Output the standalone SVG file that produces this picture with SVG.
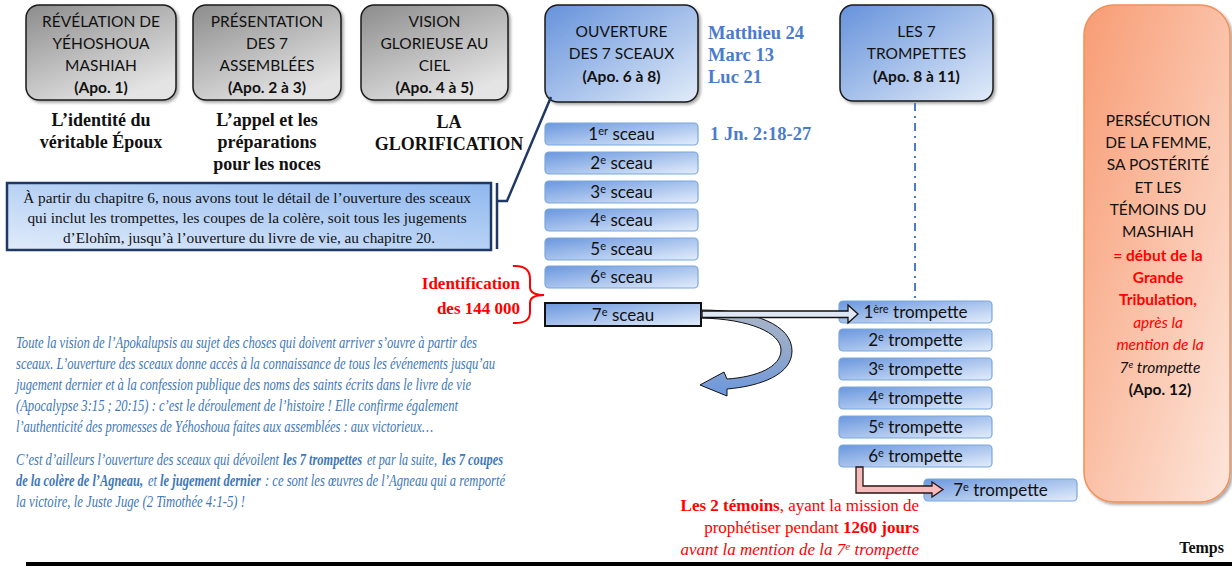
<svg xmlns="http://www.w3.org/2000/svg" width="1232" height="568" viewBox="0 0 1232 568">
<defs>
  <linearGradient id="gGray" x1="0" y1="0" x2="0.6" y2="1">
    <stop offset="0" stop-color="#8c8c8c"/>
    <stop offset="1" stop-color="#e4e4e4"/>
  </linearGradient>
  <linearGradient id="gBlue" x1="0" y1="0" x2="1" y2="1">
    <stop offset="0" stop-color="#6592db"/>
    <stop offset="1" stop-color="#e2ecf9"/>
  </linearGradient>
  <linearGradient id="gBar" x1="0" y1="0" x2="1" y2="1">
    <stop offset="0" stop-color="#6a97de"/>
    <stop offset="1" stop-color="#e3edfb"/>
  </linearGradient>
  <linearGradient id="gOrange" x1="0" y1="0" x2="1" y2="1">
    <stop offset="0" stop-color="#f89c74"/>
    <stop offset="1" stop-color="#fde6db"/>
  </linearGradient>
  <linearGradient id="gNote" x1="0" y1="1" x2="1" y2="0">
    <stop offset="0" stop-color="#e0ebfa"/>
    <stop offset="1" stop-color="#8fb8ef"/>
  </linearGradient>
  <linearGradient id="gRibbon" x1="0" y1="0" x2="0" y2="1">
    <stop offset="0" stop-color="#aab6c8"/>
    <stop offset="0.55" stop-color="#8fa6cc"/>
    <stop offset="1" stop-color="#6a97de"/>
  </linearGradient>
  <filter id="sh" x="-10%" y="-10%" width="125%" height="125%">
    <feDropShadow dx="2" dy="2" stdDeviation="1.5" flood-color="#000" flood-opacity="0.35"/>
  </filter>
</defs>
<style>
  .big { stroke: #1a1a1a; stroke-width: 1.5; filter: url(#sh); }
  .bar { fill: url(#gBar); stroke: #7aa7dd; stroke-width: 1.2; }
  .sans { font-family: Lato, "Open Sans", "Liberation Sans", sans-serif; fill: #111; }
  .t15 { font-size: 15.5px; text-anchor: middle; }
  .t17 { font-size: 17px; text-anchor: middle; }
  .b { font-weight: bold; }
  .cap { font-family: "Liberation Serif", serif; font-weight: bold; font-size: 18px; text-anchor: middle; fill: #111; }
  .ref { font-family: "Liberation Serif", serif; font-weight: bold; font-size: 18.5px; fill: #4a7ccb; }
  .bl { font-family: "Liberation Serif", serif; font-style: italic; font-size: 12px; fill: #3d77b8; }
  .red { font-family: "Liberation Serif", serif; font-size: 17px; fill: #ff0000; text-anchor: end; }
</style>

<!-- Top gray nodes -->
<g id="n-revelation">
  <rect class="big" x="26" y="5" width="150" height="95" rx="13" fill="url(#gGray)"/>
  <text class="sans t15"><tspan x="101" y="27">RÉVÉLATION DE</tspan><tspan x="101" y="49">YÉHOSHOUA</tspan><tspan x="101" y="71">MASHIAH</tspan><tspan x="101" y="93" class="b">(Apo. 1)</tspan></text>
  <text class="cap"><tspan x="101" y="126">L’identité du</tspan><tspan x="101" y="148">véritable Époux</tspan></text>
</g>
<g id="n-presentation">
  <rect class="big" x="193" y="5" width="148" height="95" rx="13" fill="url(#gGray)"/>
  <text class="sans t15"><tspan x="267" y="27">PRÉSENTATION</tspan><tspan x="267" y="49">DES 7</tspan><tspan x="267" y="71">ASSEMBLÉES</tspan><tspan x="267" y="93" class="b">(Apo. 2 à 3)</tspan></text>
  <text class="cap"><tspan x="267" y="126">L’appel et les</tspan><tspan x="267" y="148">préparations</tspan><tspan x="267" y="170">pour les noces</tspan></text>
</g>
<g id="n-vision">
  <rect class="big" x="361" y="5" width="147" height="95" rx="13" fill="url(#gGray)"/>
  <text class="sans t15"><tspan x="434.5" y="27">VISION</tspan><tspan x="434.5" y="49">GLORIEUSE AU</tspan><tspan x="434.5" y="71">CIEL</tspan><tspan x="434.5" y="93" class="b">(Apo. 4 à 5)</tspan></text>
  <text class="cap"><tspan x="449" y="128">LA</tspan><tspan x="449" y="150">GLORIFICATION</tspan></text>
</g>

<!-- Blue nodes -->
<g id="n-ouverture">
  <rect class="big" x="545" y="5" width="153" height="97" rx="13" fill="url(#gBlue)"/>
  <text class="sans t15"><tspan x="621.5" y="37">OUVERTURE</tspan><tspan x="621.5" y="59">DES 7 SCEAUX</tspan><tspan x="621.5" y="82" class="b">(Apo. 6 à 8)</tspan></text>
</g>
<g id="refs">
  <text class="ref"><tspan x="708" y="39">Matthieu 24</tspan><tspan x="708" y="61">Marc 13</tspan><tspan x="708" y="83">Luc 21</tspan></text>
  <text class="ref" x="710" y="140">1 Jn. 2:18-27</text>
</g>
<g id="n-trompettes">
  <rect class="big" x="840" y="5" width="153" height="96" rx="13" fill="url(#gBlue)"/>
  <text class="sans t15"><tspan x="916.5" y="37">LES 7</tspan><tspan x="916.5" y="59">TROMPETTES</tspan><tspan x="916.5" y="82" class="b">(Apo. 8 à 11)</tspan></text>
</g>

<!-- Orange node -->
<g id="n-persecution">
  <rect x="1084" y="5" width="146" height="497" rx="30" fill="url(#gOrange)" stroke="#f0915a" stroke-width="1.5" filter="url(#sh)"/>
  <text class="sans t15">
    <tspan x="1160" y="126">PERSÉCUTION</tspan>
    <tspan x="1160" y="148">DE LA FEMME,</tspan>
    <tspan x="1160" y="170">SA POSTÉRITÉ</tspan>
    <tspan x="1160" y="193">ET LES</tspan>
    <tspan x="1160" y="215">TÉMOINS DU</tspan>
    <tspan x="1160" y="237">MASHIAH</tspan>
    <tspan x="1160" y="261" class="b" fill="#ff0000">= début de la</tspan>
    <tspan x="1160" y="283" class="b" fill="#ff0000">Grande</tspan>
    <tspan x="1160" y="305" class="b" fill="#ff0000">Tribulation,</tspan>
    <tspan x="1160" y="328" font-style="italic" fill="#ff0000">après la</tspan>
    <tspan x="1160" y="350" font-style="italic" fill="#ff0000">mention de la</tspan>
  </text>
  <text class="sans" font-size="15.5px" font-style="italic" fill="#ff0000" x="1160" y="373" text-anchor="middle">7<tspan dy="-5" font-size="10px">e</tspan><tspan dy="5"> trompette</tspan></text>
  <text class="sans t15 b" x="1160" y="395">(Apo. 12)</text>
</g>

<!-- Note box -->
<g id="n-note">
  <rect x="7" y="183" width="484" height="67" fill="url(#gNote)" stroke="#1f3864" stroke-width="2.5"/>
  <text font-family="'Liberation Serif', serif" font-size="15.3px" fill="#111" text-anchor="middle">
    <tspan x="249" y="203">À partir du chapitre 6, nous avons tout le détail de l’ouverture des sceaux</tspan>
    <tspan x="249" y="223">qui inclut les trompettes, les coupes de la colère, soit tous les jugements</tspan>
    <tspan x="249" y="243">d’Elohîm, jusqu’à l’ouverture du livre de vie, au chapitre 20.</tspan>
  </text>
</g>

<!-- Seals -->
<g id="n-sceau1"><rect class="bar" x="545" y="123" width="153" height="22" rx="4"/><text class="sans t17" x="621.5" y="140">1<tspan dy="-5" font-size="11px">er</tspan><tspan dy="5"> sceau</tspan></text></g>
<g id="n-sceau2"><rect class="bar" x="545" y="152" width="153" height="22" rx="4"/><text class="sans t17" x="621.5" y="169">2<tspan dy="-5" font-size="11px">e</tspan><tspan dy="5"> sceau</tspan></text></g>
<g id="n-sceau3"><rect class="bar" x="545" y="181" width="153" height="22" rx="4"/><text class="sans t17" x="621.5" y="198">3<tspan dy="-5" font-size="11px">e</tspan><tspan dy="5"> sceau</tspan></text></g>
<g id="n-sceau4"><rect class="bar" x="545" y="209" width="153" height="22" rx="4"/><text class="sans t17" x="621.5" y="226">4<tspan dy="-5" font-size="11px">e</tspan><tspan dy="5"> sceau</tspan></text></g>
<g id="n-sceau5"><rect class="bar" x="545" y="238" width="153" height="22" rx="4"/><text class="sans t17" x="621.5" y="255">5<tspan dy="-5" font-size="11px">e</tspan><tspan dy="5"> sceau</tspan></text></g>
<g id="n-sceau6"><rect class="bar" x="545" y="266" width="153" height="22" rx="4"/><text class="sans t17" x="621.5" y="283">6<tspan dy="-5" font-size="11px">e</tspan><tspan dy="5"> sceau</tspan></text></g>
<g id="n-sceau7"><rect x="545" y="303" width="156" height="23" fill="url(#gBar)" stroke="#111" stroke-width="2"/><text class="sans t17" x="623" y="321">7<tspan dy="-5" font-size="11px">e</tspan><tspan dy="5"> sceau</tspan></text></g>

<!-- Trumpets -->
<g id="n-tromp1"><rect class="bar" x="839" y="301" width="153" height="22" rx="4"/><text class="sans t17" x="915.5" y="318">1<tspan dy="-5" font-size="11px">ère</tspan><tspan dy="5"> trompette</tspan></text></g>
<g id="n-tromp2"><rect class="bar" x="839" y="329" width="153" height="22" rx="4"/><text class="sans t17" x="915.5" y="346">2<tspan dy="-5" font-size="11px">e</tspan><tspan dy="5"> trompette</tspan></text></g>
<g id="n-tromp3"><rect class="bar" x="839" y="358" width="153" height="22" rx="4"/><text class="sans t17" x="915.5" y="375">3<tspan dy="-5" font-size="11px">e</tspan><tspan dy="5"> trompette</tspan></text></g>
<g id="n-tromp4"><rect class="bar" x="839" y="387" width="153" height="22" rx="4"/><text class="sans t17" x="915.5" y="404">4<tspan dy="-5" font-size="11px">e</tspan><tspan dy="5"> trompette</tspan></text></g>
<g id="n-tromp5"><rect class="bar" x="839" y="416" width="153" height="22" rx="4"/><text class="sans t17" x="915.5" y="433">5<tspan dy="-5" font-size="11px">e</tspan><tspan dy="5"> trompette</tspan></text></g>
<g id="n-tromp6"><rect class="bar" x="839" y="445" width="153" height="22" rx="4"/><text class="sans t17" x="915.5" y="462">6<tspan dy="-5" font-size="11px">e</tspan><tspan dy="5"> trompette</tspan></text></g>
<g id="n-tromp7"><rect class="bar" x="924" y="479" width="153" height="22" rx="4"/><text class="sans t17" x="1000.5" y="496">7<tspan dy="-5" font-size="11px">e</tspan><tspan dy="5"> trompette</tspan></text></g>

<!-- Connectors -->
<g id="connectors">
  <line x1="915" y1="103" x2="915" y2="299" stroke="#4a7ccb" stroke-width="2" stroke-dasharray="8 5 2 5"/>
  <path d="M497,183 L497,249 M497,201 L507,201 L551,97" fill="none" stroke="#1f3864" stroke-width="2.5"/>
  <path d="M513,266 Q530,265 530,279 L530,287 Q530,295 544,295 Q530,295 530,303 L530,312 Q530,324 513,323" fill="none" stroke="#ff0000" stroke-width="2"/>
  <path d="M701,310 C755,310 792,325 792,351 C792,374 762,386 727,389 L727,396 L700,385 L724,372 L727,379 C757,377 781,367 781,350 C781,333 750,319 701,318 Z" fill="url(#gRibbon)" stroke="#111" stroke-width="1"/>
  <path d="M702,311 L848,311 L848,305 L858,314 L848,323 L848,317.5 L702,317.5 Z" fill="#dfe7f4" stroke="#111" stroke-width="1.3"/>
  <path d="M856,467 L856,493 L932,493 L932,497 L943,489.5 L932,482 L932,486 L863,486 L863,467 Z" fill="#f6bcbc" stroke="#2a1515" stroke-width="1.3"/>
</g>

<!-- Identification label -->
<g id="identification">
  <text class="red" font-weight="bold"><tspan x="520" y="289">Identification</tspan><tspan x="520" y="314">des 144 000</tspan></text>
</g>

<!-- Italic blue paragraph (vertically stretched condensed italic) -->
<g id="paragraph" transform="scale(1,1.42)">
  <text class="bl" x="16" y="245.07" textLength="461" lengthAdjust="spacingAndGlyphs">Toute la vision de l’Apokalupsis au sujet des choses qui doivent arriver s’ouvre à partir des</text>
  <text class="bl" x="16" y="259.86" textLength="479" lengthAdjust="spacingAndGlyphs">sceaux. L’ouverture des sceaux donne accès à la connaissance de tous les événements jusqu’au</text>
  <text class="bl" x="16" y="274.65" textLength="455" lengthAdjust="spacingAndGlyphs">jugement dernier et à la confession publique des noms des saints écrits dans le livre de vie</text>
  <text class="bl" x="16" y="289.44" textLength="442" lengthAdjust="spacingAndGlyphs">(Apocalypse 3:15 ; 20:15) : c’est le déroulement de l’histoire ! Elle confirme également</text>
  <text class="bl" x="16" y="304.23" textLength="417" lengthAdjust="spacingAndGlyphs">l’authenticité des promesses de Yéhoshoua faites aux assemblées : aux victorieux…</text>

  <text class="bl" x="16" y="327.46" textLength="263" lengthAdjust="spacingAndGlyphs">C’est d’ailleurs l’ouverture des sceaux qui dévoilent</text>
  <text class="bl" x="283" y="327.46" font-weight="bold" textLength="79" lengthAdjust="spacingAndGlyphs">les 7 trompettes</text>
  <text class="bl" x="367" y="327.46" textLength="70" lengthAdjust="spacingAndGlyphs">et par la suite,</text>
  <text class="bl" x="442" y="327.46" font-weight="bold" textLength="61" lengthAdjust="spacingAndGlyphs">les 7 coupes</text>

  <text class="bl" x="16" y="342.25" font-weight="bold" textLength="127" lengthAdjust="spacingAndGlyphs">de la colère de l’Agneau,</text>
  <text class="bl" x="148" y="342.25" textLength="9" lengthAdjust="spacingAndGlyphs">et</text>
  <text class="bl" x="160" y="342.25" font-weight="bold" textLength="101" lengthAdjust="spacingAndGlyphs">le jugement dernier</text>
  <text class="bl" x="265" y="342.25" textLength="240" lengthAdjust="spacingAndGlyphs">: ce sont les œuvres de l’Agneau qui a remporté</text>

  <text class="bl" x="16" y="357.04" textLength="229" lengthAdjust="spacingAndGlyphs">la victoire, le Juste Juge (2 Timothée 4:1-5) !</text>
</g>

<!-- Red witnesses text -->
<g id="temoins">
  <text class="red" x="919" y="511"><tspan font-weight="bold">Les 2 témoins</tspan>, ayant la mission de</text>
  <text class="red" x="919" y="533">prophétiser pendant <tspan font-weight="bold">1260 jours</tspan></text>
  <text class="red" x="919" y="555" font-style="italic">avant la mention de la 7<tspan dy="-5" font-size="11px">e</tspan><tspan dy="5"> trompette</tspan></text>
</g>

<!-- Time axis -->
<g id="axis">
  <line x1="26" y1="564" x2="1232" y2="564" stroke="#000" stroke-width="4"/>
  <text x="1224" y="553" font-family="'Liberation Serif', serif" font-weight="bold" font-size="16px" text-anchor="end" fill="#111">Temps</text>
</g>
</svg>
